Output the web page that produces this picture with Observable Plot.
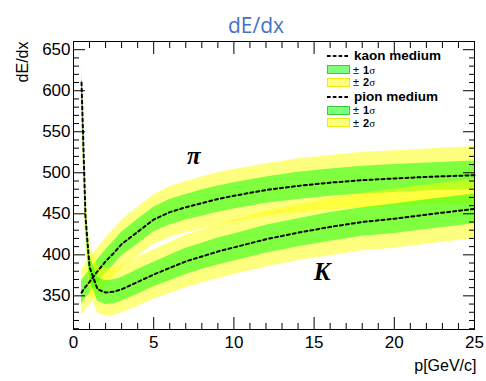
<!DOCTYPE html>
<html><head><meta charset="utf-8">
<script src="https://cdn.jsdelivr.net/npm/d3@7"></script>
<script src="https://cdn.jsdelivr.net/npm/@observablehq/plot@0.6"></script>
<style>
body{margin:0;background:#fff;}
#wrap{position:relative;width:486px;height:381px;font-family:"Liberation Sans",Arial,sans-serif;}
#wrap > svg{position:absolute;left:0;top:0;}
.row{position:absolute;left:327px;height:12px;display:flex;align-items:center;white-space:nowrap;color:#000;line-height:10px;}
.row span{line-height:10px;display:inline-block;}
.box{width:21px;height:7px;margin-right:3px;}
.g{background:rgba(0,255,0,0.5);border:1px solid rgba(40,190,40,0.8);}
.y{background:rgba(255,255,0,0.5);border:1px solid rgba(235,235,0,0.9);}
.name{font-weight:bold;font-size:13.5px;margin-left:3px;}
.pm{font-size:11px;}
.num{font-size:11px;font-weight:bold;margin-left:4px;}
.sig{font-size:11px;font-family:"Liberation Serif","DejaVu Serif",serif;}
</style>
</head><body>
<div id="wrap"></div>
<script>
// momentum points (GeV/c)
const p = [0.5,0.75,1,1.5,2,2.5,3,4,5,6,7,8,9,10,12,14,16,18,20,22,25];
// pion mean dE/dx and sigma
const pionMean  = [354,361,367,380,392,402,413,428,443,452,458,463,468,472,479,484,488,491,493,495,497];
const pionSigma = [14,14,14,14,14,14.5,14.5,15,15,15.5,15.5,16,16,16,16,16.5,16.5,17,17,17,17.5];
// kaon mean dE/dx and sigma
const kaonMean  = [610,446,385,358,354,355,358,367,376,384,392,398,404,409,419,427,434,440,444,449,456];
const kaonSigma = [15,15,14.5,14.5,14.5,14.5,14.5,15,15,15.5,16,16,16.5,16.5,17,17,17.5,17.5,18,18,18];
// axis ticks
const xMajor = [0,5,10,15,20,25];
const xMinor = d3.range(1,25).filter(v => v % 5 !== 0);
const yMajor = [350,400,450,500,550,600,650];
const yMinor = d3.range(310,661,10).filter(v => v % 50 !== 0);
// annotations
const particleLabels = ["π","K"];
const particleP = [7.5,15.5];
const particleV = [520,379];
// legend
const legendNames = ["kaon medium","pion medium"];
const sigmaLabels = ["1","2"];

const rows = (m, s) => p.map((x,i) => ({p:x, v:m[i], lo1:m[i]-s[i], hi1:m[i]+s[i], lo2:m[i]-2*s[i], hi2:m[i]+2*s[i]}));
const pion = rows(pionMean, pionSigma);
const kaon = rows(kaonMean, kaonSigma);
const ann = particleLabels.map((t,i) => ({t, p:particleP[i], v:particleV[i]}));

const band = (data) => [
  Plot.areaY(data, {x:"p", y1:"lo2", y2:"hi2", fill:"#ffff00", fillOpacity:0.5}),
  Plot.areaY(data, {x:"p", y1:"lo1", y2:"hi1", fill:"#00ff00", fillOpacity:0.5})
];
const tk = "#000";
const chart = Plot.plot({
  width: 486, height: 381,
  marginLeft: 73, marginRight: 12, marginTop: 41, marginBottom: 52,
  style: {fontFamily: "'Liberation Sans', Arial, sans-serif", fontSize: "17px", background: "white", overflow: "visible"},
  x: {domain: [0,25]},
  y: {domain: [309,660]},
  marks: [
    ...band(pion),
    ...band(kaon),
    Plot.lineY(pion, {x:"p", y:"v", stroke:"black", strokeWidth:2, strokeDasharray:"3,3"}),
    Plot.lineY(kaon, {x:"p", y:"v", stroke:"black", strokeWidth:2, strokeDasharray:"3,3"}),
    // ticks inside frame
    Plot.axisY({ticks: yMajor, tickSize: 12, dx: 12, tickFormat: () => "", label: null, stroke: tk}),
    Plot.axisY({ticks: yMinor, tickSize: 6, dx: 6, tickFormat: () => "", label: null, stroke: tk}),
    Plot.axisY({anchor:"right", ticks: yMajor, tickSize: 12, dx: -12, tickFormat: () => "", label: null, stroke: tk}),
    Plot.axisY({anchor:"right", ticks: yMinor, tickSize: 6, dx: -6, tickFormat: () => "", label: null, stroke: tk}),
    Plot.axisX({ticks: xMajor, tickSize: 12, dy: -12, tickFormat: () => "", label: null, stroke: tk}),
    Plot.axisX({ticks: xMinor, tickSize: 6, dy: -6, tickFormat: () => "", label: null, stroke: tk}),
    Plot.axisX({anchor:"top", ticks: xMajor, tickSize: 12, dy: 12, tickFormat: () => "", label: null, stroke: tk}),
    Plot.axisX({anchor:"top", ticks: xMinor, tickSize: 6, dy: 6, tickFormat: () => "", label: null, stroke: tk}),
    // tick labels
    Plot.axisY({ticks: yMajor, tickSize: 0, tickPadding: 3, label: null, fontSize: 17}),
    Plot.axisX({ticks: xMajor, tickSize: 0, tickPadding: 6, label: null, fontSize: 17}),
    Plot.frame({stroke: "black"}),
    // annotations
    Plot.text(ann, {x:"p", y:"v", text:"t", fontFamily:"'Liberation Serif', 'DejaVu Serif', serif", fontWeight:"bold", fontStyle:"italic", fontSize:25}),
    // axis titles
    Plot.text(["dE/dx"], {frameAnchor:"top-left", dx:-57, dy:0, rotate:-90, textAnchor:"end", fontSize:16}),
    Plot.text(["p[GeV/c]"], {frameAnchor:"bottom-right", dx:2, dy:41, textAnchor:"end", fontSize:16}),
    // title
    Plot.text(["dE/dx"], {frameAnchor:"top", dx:-18, dy:-23, fontSize:21, fill:"#4472c4", fontFamily:"'Open Sans', sans-serif", fontWeight:500})
  ]
});
const wrap = document.getElementById("wrap");
wrap.appendChild(chart);

// legend
const rowY = [56, 69.8, 82.2, 96.6, 110.4, 122.8];
const dashSvg = '<svg width="24" height="4" style="margin-right:0"><line x1="0" y1="2" x2="23" y2="2" stroke="#000" stroke-width="2" stroke-dasharray="3.6,2.2"/></svg>';
const items = [];
legendNames.forEach(n => {
  items.push(`${dashSvg}<span class="name">${n}</span>`);
  sigmaLabels.forEach((s,j) => {
    items.push(`<div class="box ${j===0?'g':'y'}"></div><span class="pm">±</span><span class="num">${s}</span><span class="sig">σ</span>`);
  });
});
items.forEach((html,i) => {
  const d = document.createElement("div");
  d.className = "row";
  d.style.top = (rowY[i] - 6) + "px";
  d.innerHTML = html;
  wrap.appendChild(d);
});
</script>
</body></html>
